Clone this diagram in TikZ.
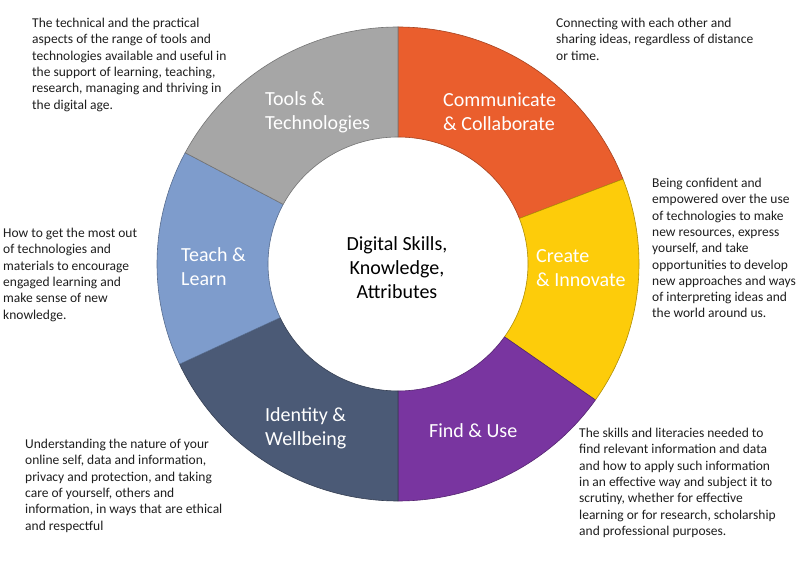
\documentclass[tikz,border=0pt]{standalone}
\usepackage{fontspec}
\setmainfont{Carlito}
\usetikzlibrary{calc}
\definecolor{cOrange}{RGB}{234,94,45}
\definecolor{cYellow}{RGB}{253,204,10}
\definecolor{cPurple}{RGB}{121,53,160}
\definecolor{cSlate}{RGB}{75,90,118}
\definecolor{cBlue}{RGB}{126,156,204}
\definecolor{cGrey}{RGB}{166,166,166}
\definecolor{cText}{RGB}{30,30,30}
\newcommand\ringsector[3]{%
  \path[seg=#1] ($(c)+(#2:241pt and 237pt)$)
    arc[start angle=#2,end angle=#3,x radius=241pt,y radius=237pt]
    -- ($(c)+(#3:130pt and 127pt)$)
    arc[start angle=#3,end angle=#2,x radius=130pt,y radius=127pt] -- cycle;}
\begin{document}
\begin{tikzpicture}[x=1pt,y=1pt,
  seg/.style={fill=#1, draw=#1!70!black, line width=0.6pt, line join=round},
  seglabel/.style={text=white, font=\fontsize{20}{24}\selectfont, align=left, anchor=north west, inner sep=0pt},
  desc/.style={text=cText, font=\fontsize{13.5}{16.3}\selectfont, align=left, anchor=north west, inner sep=0pt}]
\useasboundingbox[fill=white] (0,0) rectangle (797,564);
\coordinate (c) at (398,300);
\ringsector{cOrange}{21}{90}
\ringsector{cYellow}{-35}{21}
\ringsector{cPurple}{-90}{-35}
\ringsector{cSlate}{205}{270}
\ringsector{cBlue}{152}{205}
\ringsector{cGrey}{90}{152}
\node[seglabel] (tools) at (265,473) {Tools \&\\Technologies};
\node[seglabel] (comm) at (443,471) {Communicate\\\& Collaborate};
\node[seglabel] (teach) at (181,317) {Teach \&\\Learn};
\node[seglabel] (create) at (536,315) {Create\\\& Innovate};
\node[seglabel] (ident) at (265,157) {Identity \&\\Wellbeing};
\node[seglabel] (find) at (429,141) {Find \& Use};
\node[seglabel, text=black, align=center, anchor=north] (centre) at (397,328) {Digital Skills,\\Knowledge,\\Attributes};
\node[desc] (dtools) at (32,546) {The technical and the practical\\aspects of the range of tools and\\technologies available and useful in\\the support  of learning, teaching,\\research, managing and thriving in\\the digital age.};
\node[desc] (dcomm) at (556,546) {Connecting with each other and\\sharing ideas, regardless of distance\\or time.};
\node[desc] (dcreate) at (652,386) {Being confident and\\empowered  over the use\\of technologies to make\\new resources, express\\yourself, and take\\opportunities  to develop\\new approaches and ways\\of interpreting ideas and\\the world around us.};
\node[desc] (dteach) at (3,336) {How to get the most out\\of technologies and\\materials to encourage\\engaged learning and\\make sense of new\\knowledge.};
\node[desc] (dident) at (25,125) {Understanding the nature of your\\online self, data and information,\\privacy and protection, and taking\\care of yourself, others and\\information,  in ways that are ethical\\and respectful};
\node[desc] (dfind) at (579,136) {The skills and literacies needed to\\find relevant information  and data\\and how to apply such information\\in an effective way and subject it to\\scrutiny, whether for effective\\learning or for research, scholarship\\and professional purposes.};
\end{tikzpicture}
\end{document}
